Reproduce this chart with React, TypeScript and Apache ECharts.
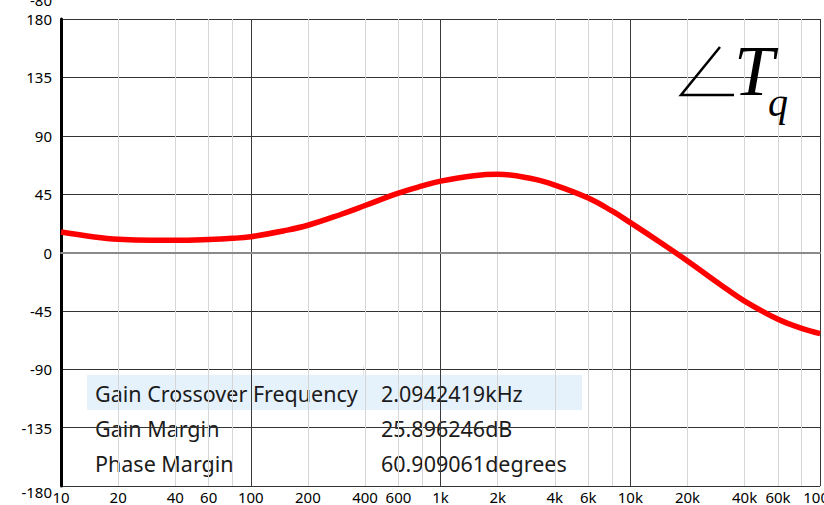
import React, { useEffect, useRef } from "react";
import * as echarts from "echarts";

const freqs = [10, 15, 20, 30, 40, 60, 80, 100, 150, 200, 300, 400, 600, 800, 1000, 1500, 2000, 3000, 4000, 6000, 8000, 10000, 15000, 20000, 30000, 40000, 60000, 80000, 100000];
const phase = [15.8, 12.0, 10.2, 9.4, 9.4, 10.0, 10.9, 12.2, 16.8, 21.0, 29.5, 36.2, 45.8, 51.3, 55, 59.2, 60.3, 57, 52, 42, 32, 23, 6, -6.5, -25, -37.5, -51.5, -58.5, -62.5];

const xLabelValues = [10, 20, 40, 60, 100, 200, 400, 600, 1000, 2000, 4000, 6000, 10000, 20000, 40000, 60000, 100000];
const xGridValues = [10, 20, 40, 60, 80, 100, 200, 400, 600, 800, 1000, 2000, 4000, 6000, 8000, 10000, 20000, 40000, 60000, 80000, 100000];

const tableRows = [
  ["Gain Crossover Frequency", "2.0942419kHz"],
  ["Gain Margin", "25.896246dB"],
  ["Phase Margin", "60.909061degrees"],
];

const FONT = "'Noto Sans', sans-serif";

function fmtFreq(v: number): string {
  if (v >= 1000) return Math.round(v / 1000) + "k";
  return String(Math.round(v));
}

export default function App() {
  const ref = useRef<HTMLDivElement>(null);
  useEffect(() => {
    if (!ref.current) return;
    const chart = echarts.init(ref.current, null, { renderer: "svg" });
    const rowTexts: any[] = [];
    tableRows.forEach((r, i) => {
      rowTexts.push({
        type: "text",
        x: 95,
        y: 393 + i * 35,
        style: { text: r[0], font: `21.5px ${FONT}`, fill: "#1b1b1b", verticalAlign: "middle", align: "left" },
      });
      rowTexts.push({
        type: "text",
        x: 381,
        y: 393 + i * 35,
        style: { text: r[1], font: `21.5px ${FONT}`, fill: "#1b1b1b", verticalAlign: "middle", align: "left" },
      });
    });
    chart.setOption({
      animation: false,
      backgroundColor: "#ffffff",
      grid: { left: 61, top: 19, width: 766, height: 467, containLabel: false },
      xAxis: {
        type: "log",
        logBase: 10,
        min: 10,
        max: 100000,
        axisLine: { show: true, lineStyle: { color: "#8a8a8a", width: 2 } },
        axisTick: { show: false, customValues: xGridValues },
        minorTick: { show: false },
        axisLabel: {
          customValues: xLabelValues,
          formatter: (v: number) => fmtFreq(v),
          color: "#000",
          fontFamily: FONT,
          fontSize: 15,
          margin: 3,
          showMinLabel: true,
          showMaxLabel: true,
          hideOverlap: false,
        },
        splitLine: {
          show: true,
          showMinLine: true,
          showMaxLine: true,
          customValues: xGridValues,
          lineStyle: { color: ["#3a3a3a", "#d6d6d6", "#d6d6d6", "#d6d6d6", "#d6d6d6"], width: 1 },
        },
      },
      yAxis: {
        type: "value",
        min: -180,
        max: 180,
        interval: 45,
        axisLine: { show: true, lineStyle: { color: "#000", width: 3 } },
        axisTick: { show: false },
        axisLabel: {
          color: "#000",
          fontFamily: FONT,
          fontSize: 15,
          margin: 9,
          formatter: (v: number) => (v === -180 ? "{b|-180}" : String(v)),
          rich: { b: { padding: [12, 0, 0, 0], fontSize: 15, fontFamily: FONT, color: "#000" } },
        },
        splitLine: { show: true, lineStyle: { color: "#333", width: 1 } },
      },
      series: [
        {
          type: "line",
          data: freqs.map((f, i) => [f, phase[i]]),
          smooth: 0.4,
          showSymbol: false,
          symbol: "none",
          lineStyle: { color: "#ff0000", width: 5.5 },
          z: 3,
        },
      ],
      graphic: [
        {
          type: "text",
          x: 52,
          y: 0,
          style: { text: "-80", font: `15px ${FONT}`, fill: "#000", align: "right", verticalAlign: "middle" },
        },
        {
          type: "polyline",
          shape: { points: [[720, 47], [681, 95], [734, 95]] },
          style: { stroke: "#000", lineWidth: 2.5, fill: null },
          z: 10,
        },
        {
          type: "text",
          x: 734,
          y: 71,
          style: { text: "T", font: `italic 72px 'Liberation Serif', serif`, fill: "#000", align: "left", verticalAlign: "middle" },
          z: 10,
        },
        {
          type: "text",
          x: 768,
          y: 102,
          style: { text: "q", font: `italic 40px 'Liberation Serif', serif`, fill: "#000", align: "left", verticalAlign: "middle" },
          z: 10,
        },
        {
          type: "group",
          z: 20,
          children: [
            { type: "rect", shape: { x: 85, y: 366, width: 499, height: 119 }, style: { fill: "#ffffff" } },
            { type: "rect", shape: { x: 87, y: 375, width: 495, height: 35 }, style: { fill: "#e5f1fb" } },
            { type: "line", shape: { x1: 363.5, y1: 366, x2: 363.5, y2: 375 }, style: { stroke: "#e3e3e3", lineWidth: 1 } },
            ...rowTexts,
          ],
        },
      ],
    });
    return () => chart.dispose();
  }, []);
  return (
    <div style={{ position: "fixed", left: 0, top: 0, width: 824, height: 505, overflow: "hidden", background: "#fff" }}>
      <div ref={ref} style={{ width: 840, height: 505 }} />
    </div>
  );
}
